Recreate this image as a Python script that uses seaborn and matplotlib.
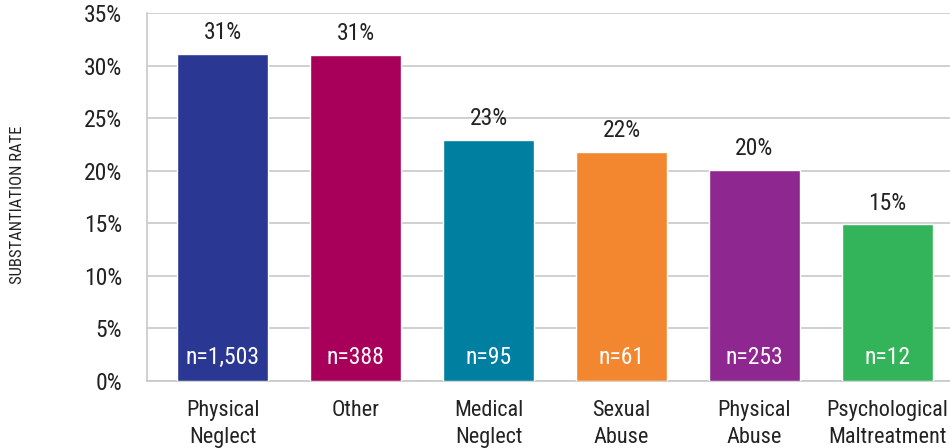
import numpy as np
import pandas as pd
import matplotlib
matplotlib.use("Agg")
import matplotlib.pyplot as plt
import seaborn as sns
from matplotlib import font_manager

# Data
categories = ["Physical\nNeglect", "Other", "Medical\nNeglect", "Sexual\nAbuse",
              "Physical\nAbuse", "Psychological\nMaltreatment"]
rates = [31.1, 31.0, 22.9, 21.8, 20.1, 14.9]
rate_labels = ["31%", "31%", "23%", "22%", "20%", "15%"]
n_labels = ["n=1,503", "n=388", "n=95", "n=61", "n=253", "n=12"]
colors = ["#2A3894", "#A8005A", "#007FA0", "#F2872F", "#8E2790", "#34B45A"]

df = pd.DataFrame({"category": categories, "rate": rates})

sns.set_style("white")
installed = {f.name for f in font_manager.fontManager.ttflist}
family = [f for f in ["Liberation Sans Narrow", "Roboto Condensed", "Roboto", "DejaVu Sans"]
          if f in installed]
plt.rcParams["font.family"] = family

fig = plt.figure(figsize=(9.5, 4.48), dpi=100)
ax = fig.add_axes([0.1547, 0.1496, 0.845, 0.8214])

sns.barplot(data=df, x="category", y="rate", hue="category", palette=colors,
            legend=False, width=0.685, saturation=1, ax=ax, zorder=3)

ax.set_ylim(0, 35)
ax.set_xlim(-0.57, 5.47)
ax.set_yticks(np.arange(0, 36, 5))
ax.set_yticklabels([f"{t}%" for t in range(0, 36, 5)])
ax.yaxis.grid(True, color="#C8C8C8", linewidth=1.2, zorder=0)
ax.set_axisbelow(True)

for s in ["top", "right"]:
    ax.spines[s].set_visible(False)
for s in ["left", "bottom"]:
    ax.spines[s].set_color("#C8C8C8")
    ax.spines[s].set_linewidth(1.2)

ax.tick_params(axis="both", length=0, colors="#222222")
ax.tick_params(axis="x", pad=14, labelsize=16)
ax.tick_params(axis="y", pad=18, labelsize=17)
for lbl in ax.get_xticklabels():
    lbl.set_linespacing(1.35)

ax.set_xlabel("")
ax.set_ylabel("SUBSTANTIATION RATE", fontsize=12, color="#222222")
ax.yaxis.set_label_coords(-0.152, 0.478)

for i, (r, lab, n) in enumerate(zip(rates, rate_labels, n_labels)):
    ax.annotate(lab, (i, r), xytext=(0, 7), textcoords="offset points",
                ha="center", va="bottom", fontsize=17, color="#222222")
    ax.text(i, 2.2, n, ha="center", va="center", fontsize=17, color="white", zorder=4)

fig.savefig("out.png", dpi=100)
